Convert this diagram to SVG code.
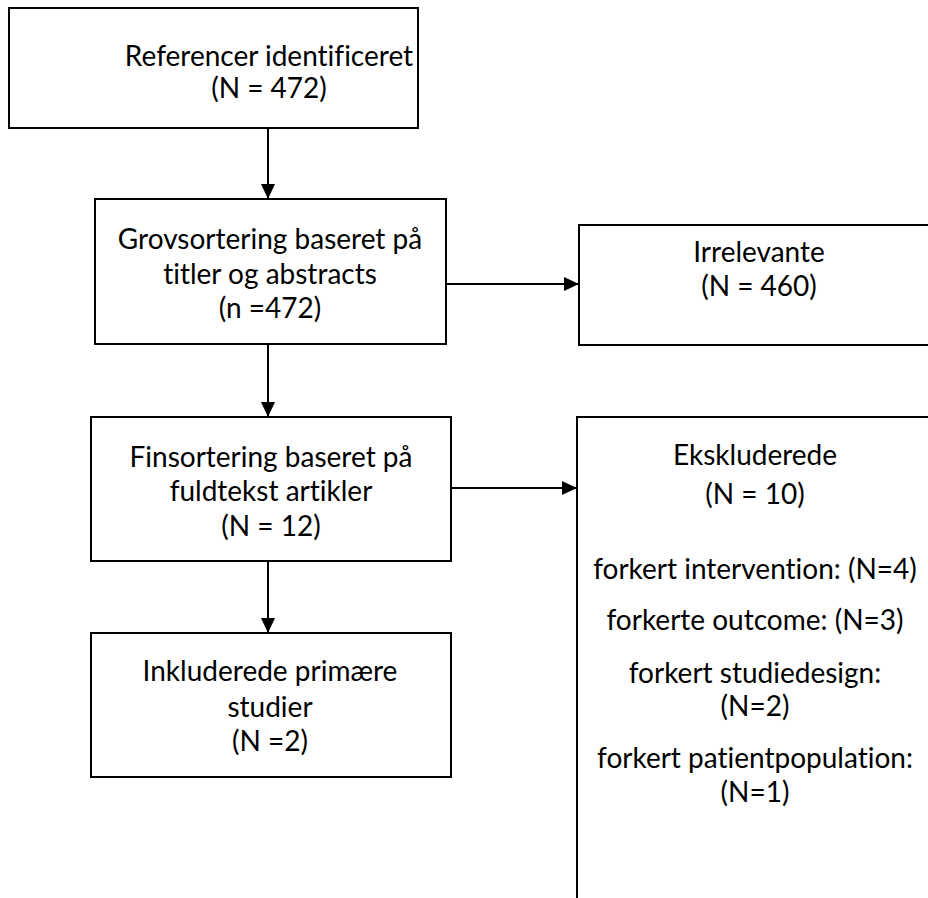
<svg xmlns="http://www.w3.org/2000/svg" width="928" height="898" viewBox="0 0 928 898">
<style>
.box{fill:#fff;stroke:#000;stroke-width:2}
.t{font-family:Lato,"Open Sans","Liberation Sans",sans-serif;font-size:28px;fill:#000;text-anchor:middle;font-variant-ligatures:none}
.c{stroke:#000;stroke-width:2;fill:none;marker-end:url(#ah)}
</style>
<defs>
<marker id="ah" markerUnits="userSpaceOnUse" markerWidth="16" markerHeight="14" refX="15" refY="7" orient="auto">
<path d="M0,0 L15,7 L0,14 Z" fill="#000"/>
</marker>
</defs>
<rect width="928" height="898" fill="#fff"/>
<g id="connectors">
<line class="c" x1="268" y1="128" x2="268" y2="199"/>
<line class="c" x1="268" y1="344" x2="268" y2="417"/>
<line class="c" x1="268" y1="561" x2="268" y2="633"/>
<line class="c" x1="446" y1="284" x2="579" y2="284"/>
<line class="c" x1="451" y1="488" x2="577" y2="488"/>
</g>
<g id="n1">
<rect class="box" x="9" y="8" width="409" height="120"/>
<text class="t" x="269" y="66">Referencer identificeret</text>
<text class="t" x="269" y="98">(N = 472)</text>
</g>
<g id="n2">
<rect class="box" x="95" y="199" width="351" height="145"/>
<text class="t" x="270" y="249">Grovsortering baseret på</text>
<text class="t" x="270" y="284">titler og abstracts</text>
<text class="t" x="270" y="318">(n =472)</text>
</g>
<g id="n3">
<rect class="box" x="579" y="225" width="362" height="120"/>
<text class="t" x="759" y="262">Irrelevante</text>
<text class="t" x="759" y="296">(N = 460)</text>
</g>
<g id="n4">
<rect class="box" x="91" y="417" width="360" height="144"/>
<text class="t" x="271" y="467">Finsortering baseret på</text>
<text class="t" x="271" y="501">fuldtekst artikler</text>
<text class="t" x="271" y="536">(N = 12)</text>
</g>
<g id="n5">
<rect class="box" x="577" y="417" width="370" height="500"/>
<text class="t" x="755" y="465">Ekskluderede</text>
<text class="t" x="755" y="504">(N = 10)</text>
<text class="t" x="755" y="579">forkert intervention: (N=4)</text>
<text class="t" x="755" y="630">forkerte outcome: (N=3)</text>
<text class="t" x="755" y="683">forkert studiedesign:</text>
<text class="t" x="755" y="716">(N=2)</text>
<text class="t" x="755" y="768">forkert patientpopulation:</text>
<text class="t" x="755" y="802">(N=1)</text>
</g>
<g id="n6">
<rect class="box" x="91" y="633" width="360" height="144"/>
<text class="t" x="270" y="681">Inkluderede primære</text>
<text class="t" x="270" y="717">studier</text>
<text class="t" x="270" y="751">(N =2)</text>
</g>
</svg>
